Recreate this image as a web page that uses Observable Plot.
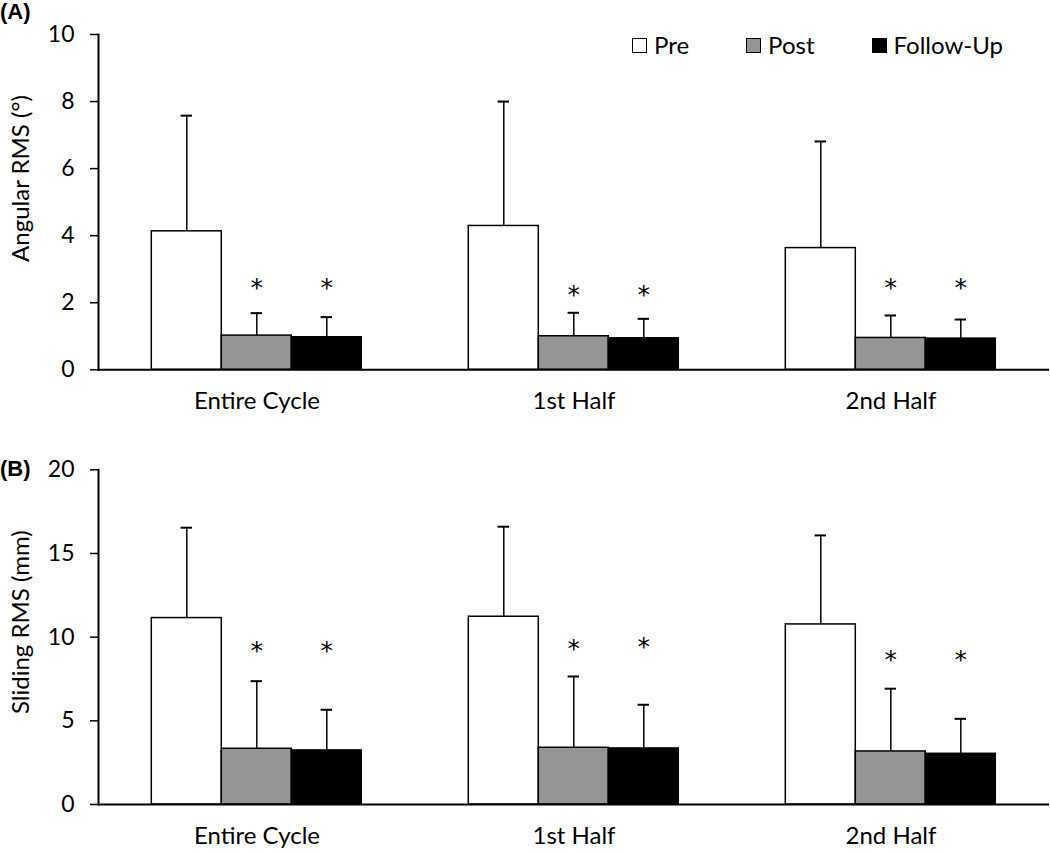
<!DOCTYPE html>
<html><head><meta charset="utf-8">
<script src="https://cdn.jsdelivr.net/npm/d3@7"></script>
<script src="https://cdn.jsdelivr.net/npm/@observablehq/plot@0.6"></script>
<style>
body{margin:0;background:#fff;font-family:Lato,sans-serif;}
#wrap{position:relative;width:1050px;height:852px;overflow:hidden;}
.panel{position:absolute;left:0;}
.tag{position:absolute;left:0;font-family:"Liberation Sans",Arial,sans-serif;font-weight:bold;font-size:22px;line-height:1;}
#legend{position:absolute;top:33px;left:632px;display:flex;align-items:center;font-size:24px;line-height:1;}
.item{display:flex;align-items:center;}
.sw{width:13px;height:13px;border:1.5px solid #000;margin-right:7px;}
</style></head>
<body><div id="wrap">
<div id="pA" class="panel" style="top:0"></div>
<div id="pB" class="panel" style="top:430px"></div>
<div class="tag" style="top:1px">(A)</div>
<div class="tag" style="top:458px">(B)</div>
<div id="legend"></div>
</div>
<script>
const categories = ["Entire Cycle", "1st Half", "2nd Half"];
const phases = ["Pre", "Post", "Follow-Up"];
const phaseColors = ["#ffffff", "#959595", "#000000"];

// Panel A: Angular RMS (deg) — means and SD
const angularPreMean = [4.13, 4.29, 3.63];
const angularPreSD = [3.45, 3.71, 3.18];
const angularPostMean = [1.02, 1.00, 0.95];
const angularPostSD = [0.67, 0.70, 0.67];
const angularFollowMean = [0.97, 0.94, 0.93];
const angularFollowSD = [0.60, 0.58, 0.57];
const angularStarLevel = [2.58, 2.37, 2.59];

// Panel B: Sliding RMS (mm) — means and SD
const slidingPreMean = [11.14, 11.22, 10.76];
const slidingPreSD = [5.40, 5.38, 5.32];
const slidingPostMean = [3.33, 3.39, 3.17];
const slidingPostSD = [4.04, 4.26, 3.75];
const slidingFollowMean = [3.23, 3.35, 3.03];
const slidingFollowSD = [2.43, 2.61, 2.09];
const slidingStarPost = [9.46, 9.61, 8.93];
const slidingStarFollow = [9.46, 9.70, 8.93];

const angularTicks = [0, 2, 4, 6, 8, 10];
const slidingTicks = [0, 5, 10, 15, 20];

function rowsFrom(means, sds) {
  const out = [];
  categories.forEach((c, i) => phases.forEach((p, j) => out.push({category: c, phase: p, mean: means[j][i], sd: sds[j][i]})));
  return out;
}
function starsFrom(postLv, followLv) {
  const out = [];
  categories.forEach((c, i) => {
    out.push({category: c, phase: "Post", level: postLv[i]});
    out.push({category: c, phase: "Follow-Up", level: followLv[i]});
  });
  return out;
}

function panel({rows, stars, yMax, yTicks, yLabel, height, marginTop, marginBottom, labelDy}) {
  return Plot.plot({
    width: 1050, height, marginTop, marginBottom, marginLeft: 97.7, marginRight: 0,
    style: {fontFamily: "Lato, sans-serif", fontSize: "23px", color: "#000", background: "#fff", overflow: "visible"},
    fx: {domain: categories, padding: 0},
    x: {domain: phases, paddingInner: 0, paddingOuter: 0.754, axis: null},
    y: {domain: [0, yMax]},
    color: {domain: phases, range: phaseColors},
    marks: [
      Plot.barY(rows, {fx: "category", x: "phase", y: "mean", fill: "phase", stroke: "#000", strokeWidth: 1.5}),
      Plot.ruleX(rows, {fx: "category", x: "phase", y1: "mean", y2: d => d.mean + d.sd, stroke: "#000", strokeWidth: 1.5}),
      Plot.tickY(rows, {fx: "category", x: "phase", y: d => d.mean + d.sd, stroke: "#000", strokeWidth: 2, insetLeft: 29.3, insetRight: 29.3}),
      Plot.text(stars, {fx: "category", x: "phase", y: "level", text: () => "*", fill: "#000", fontSize: 25, fontFamily: "DejaVu Sans", dy: 5}),
      Plot.ruleY([0], {stroke: "#000", strokeWidth: 2}),
      Plot.frame({anchor: "left", facet: "super", stroke: "#000", strokeWidth: 2}),
      Plot.axisY({ticks: yTicks, tickSize: 8, tickPadding: 16, label: null, strokeWidth: 1.5, fontSize: 23}),
      Plot.axisFx({anchor: "bottom", tickSize: 0, tickPadding: 22, label: null, fontSize: 24}),
      Plot.text([yLabel], {frameAnchor: "left", textAnchor: "middle", facet: "super", rotate: -90, dx: -76.7, dy: labelDy, fontSize: 24})
    ]
  });
}

const rowsA = rowsFrom([angularPreMean, angularPostMean, angularFollowMean], [angularPreSD, angularPostSD, angularFollowSD]);
const rowsB = rowsFrom([slidingPreMean, slidingPostMean, slidingFollowMean], [slidingPreSD, slidingPostSD, slidingFollowSD]);

document.getElementById("pA").append(panel({
  rows: rowsA, stars: starsFrom(angularStarLevel, angularStarLevel), yMax: 10, yTicks: angularTicks,
  yLabel: "Angular RMS (°)", height: 430, marginTop: 34, marginBottom: 60.7, labelDy: -23.6
}));
document.getElementById("pB").append(panel({
  rows: rowsB, stars: starsFrom(slidingStarPost, slidingStarFollow), yMax: 20, yTicks: slidingTicks,
  yLabel: "Sliding RMS (mm)", height: 422, marginTop: 39.3, marginBottom: 48, labelDy: -15
}));

const legend = document.getElementById("legend");
phases.forEach((p, i) => {
  const item = document.createElement("div");
  item.className = "item";
  if (i > 0) item.style.marginLeft = "57px";
  const sw = document.createElement("span");
  sw.className = "sw";
  sw.style.background = phaseColors[i];
  const t = document.createElement("span");
  t.textContent = p;
  item.append(sw, t);
  legend.append(item);
});
</script>
</body></html>
